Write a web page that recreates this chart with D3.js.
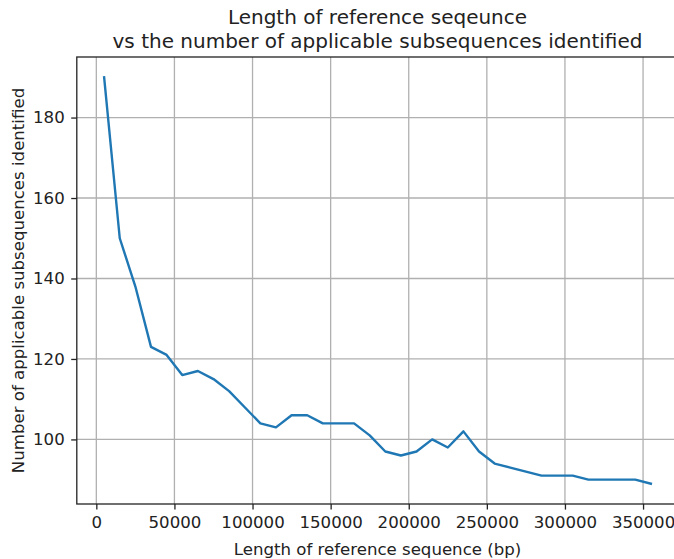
<!DOCTYPE html>
<html lang="en">
<head>
  <meta charset="utf-8">
  <title>Length of reference seqeunce vs subsequences</title>
  <script src="https://d3js.org/d3.v7.min.js"></script>
  <style>
  body { margin: 0; background: #fff; }
  svg text { font-family: "DejaVu Sans", sans-serif; fill: #222; }
  .grid line { stroke: #b0b0b0; stroke-width: 1.3; }
  .axis path, .axis line { stroke: #222; stroke-width: 1.3; }
  </style>
</head>
<body>
<div id="chart"></div>
<script>
// data
var seqLength = [5000, 15000, 25000, 35000, 45000, 55000, 65000, 75000, 85000, 95000,
  105000, 115000, 125000, 135000, 145000, 155000, 165000, 175000, 185000, 195000,
  205000, 215000, 225000, 235000, 245000, 255000, 265000, 275000, 285000, 295000,
  305000, 315000, 325000, 335000, 345000, 355000];
var subseqCount = [190, 150, 138, 123, 121, 116, 117, 115, 112, 108,
  104, 103, 106, 106, 104, 104, 104, 101, 97, 96,
  97, 100, 98, 102, 97, 94, 93, 92, 91, 91,
  91, 90, 90, 90, 90, 89];
var xTicks = [0, 50000, 100000, 150000, 200000, 250000, 300000, 350000];
var yTicks = [100, 120, 140, 160, 180];

var width = 674, height = 559;
// plot box (right edge falls just outside the picture, as in the reference)
var pLeft = 76.8, pRight = 678.2, pTop = 57, pBottom = 504;

var svg = d3.select("#chart").append("svg")
  .attr("width", width)
  .attr("height", height);

// matplotlib style 5% margins around the data
var xMin = d3.min(seqLength), xMax = d3.max(seqLength);
var yMin = d3.min(subseqCount), yMax = d3.max(subseqCount);
var xPad = (xMax - xMin) * 0.05, yPad = (yMax - yMin) * 0.05;

var x = d3.scaleLinear().domain([xMin - xPad, xMax + xPad]).range([pLeft, pRight]);
var y = d3.scaleLinear().domain([yMin - yPad, yMax + yPad]).range([pBottom, pTop]);

// grid
svg.append("g").attr("class", "grid")
  .selectAll("line").data(xTicks).enter().append("line")
  .attr("x1", d => x(d)).attr("x2", d => x(d))
  .attr("y1", pTop).attr("y2", pBottom);
svg.append("g").attr("class", "grid")
  .selectAll("line").data(yTicks).enter().append("line")
  .attr("x1", pLeft).attr("x2", pRight)
  .attr("y1", d => y(d)).attr("y2", d => y(d));

// line
var line = d3.line()
  .x((d, i) => x(seqLength[i]))
  .y(d => y(d));
svg.append("path")
  .datum(subseqCount)
  .attr("d", line)
  .attr("fill", "none")
  .attr("stroke", "#1f77b4")
  .attr("stroke-width", 2.4)
  .attr("stroke-linejoin", "round")
  .attr("stroke-linecap", "square");

// frame
svg.append("rect")
  .attr("x", pLeft).attr("y", pTop)
  .attr("width", pRight - pLeft).attr("height", pBottom - pTop)
  .attr("fill", "none").attr("stroke", "#222").attr("stroke-width", 1.3);

// axes
var xAxis = svg.append("g").attr("class", "axis")
  .attr("transform", "translate(0," + pBottom + ")")
  .call(d3.axisBottom(x).tickValues(xTicks).tickFormat(d3.format("d"))
    .tickSize(5.6).tickPadding(7).tickSizeOuter(0));
xAxis.select(".domain").remove();
xAxis.selectAll("text").style("font-size", "16.6px");

var yAxis = svg.append("g").attr("class", "axis")
  .attr("transform", "translate(" + pLeft + ",0)")
  .call(d3.axisLeft(y).tickValues(yTicks).tickFormat(d3.format("d"))
    .tickSize(5.6).tickPadding(6.5).tickSizeOuter(0));
yAxis.select(".domain").remove();
yAxis.selectAll("text").style("font-size", "16.6px");

// title
var title = svg.append("text")
  .attr("text-anchor", "middle")
  .style("font-size", "20px");
title.append("tspan").attr("x", (pLeft + pRight) / 2).attr("y", 24)
  .text("Length of reference seqeunce");
title.append("tspan").attr("x", (pLeft + pRight) / 2).attr("y", 47.5)
  .text("vs the number of applicable subsequences identified");

// axis labels
svg.append("text")
  .attr("x", (pLeft + pRight) / 2).attr("y", 554.5)
  .attr("text-anchor", "middle")
  .style("font-size", "16.6px")
  .text("Length of reference sequence (bp)");

svg.append("text")
  .attr("transform", "translate(23.5," + (pTop + pBottom) / 2 + ") rotate(-90)")
  .attr("text-anchor", "middle")
  .style("font-size", "16.6px")
  .text("Number of applicable subsequences identified");
</script>
</body>
</html>
